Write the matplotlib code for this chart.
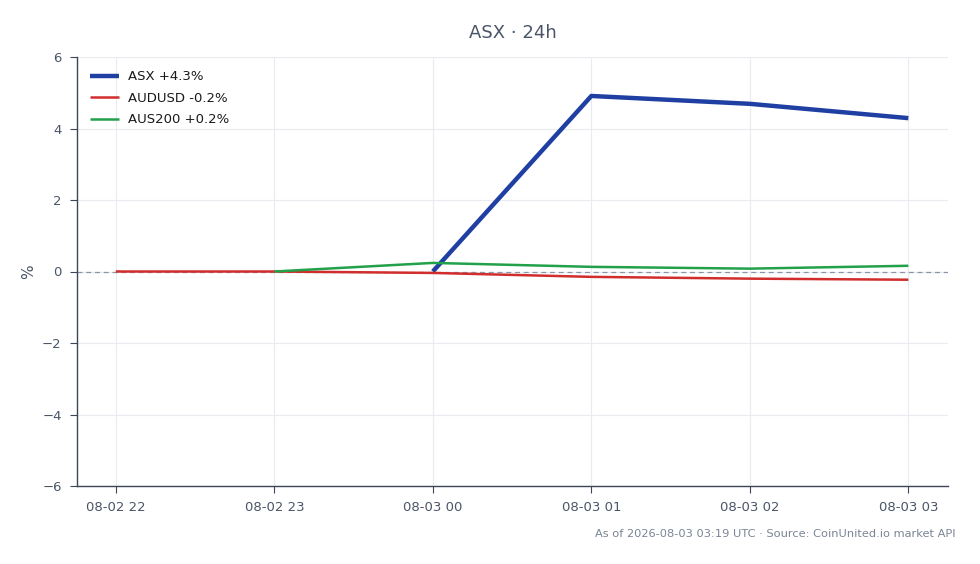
import matplotlib
matplotlib.use("Agg")
import matplotlib.pyplot as plt
import numpy as np

# hourly labels
hours = ["08-02 22", "08-02 23", "08-03 00", "08-03 01", "08-03 02", "08-03 03"]

# % change series (None = no data yet)
asx = [None, None, 0.0, 4.91, 4.69, 4.29]
audusd = [0.0, 0.0, -0.04, -0.15, -0.20, -0.23]
aus200 = [None, 0.0, 0.24, 0.13, 0.08, 0.16]

labels = ["ASX +4.3%", "AUDUSD -0.2%", "AUS200 +0.2%"]
colors = ["#1f3fa3", "#d12d2d", "#22a04a"]
widths = [3.2, 1.8, 1.8]

TXT = "#4a5568"

fig = plt.figure(figsize=(9.8, 5.64), dpi=100)
ax = fig.add_axes([77 / 980, 1 - 486 / 564, (948 - 77) / 980, (486 - 57) / 564])

x = np.arange(len(hours))


def to_arr(vals):
    return np.array([np.nan if v is None else v for v in vals], dtype=float)


for vals, lab, c, w in zip([asx, audusd, aus200], labels, colors, widths):
    ax.plot(x, to_arr(vals), color=c, lw=w, label=lab, solid_capstyle="butt", zorder=3)

ax.axhline(0, color="#8a96a8", lw=0.9, ls=(0, (4, 3)), zorder=2)

ax.set_xlim(-0.245, 5.25)
ax.set_ylim(-6, 6)
ax.set_xticks(x)
ax.set_xticklabels(hours)
ax.set_yticks(np.arange(-6, 7, 2))

ax.grid(True, color="#e8ebef", lw=0.8, zorder=0)
ax.set_axisbelow(True)
for s in ["top", "right"]:
    ax.spines[s].set_visible(False)
for s in ["left", "bottom"]:
    ax.spines[s].set_color("#3b4656")
    ax.spines[s].set_linewidth(1.0)
ax.tick_params(colors="#3b4656", labelcolor=TXT, labelsize=9.5, length=5, pad=6)

ax.set_ylabel("%", color=TXT, fontsize=11)
ax.set_title("ASX · 24h", color=TXT, fontsize=13, pad=14)

leg = ax.legend(loc="upper left", frameon=False, fontsize=9.5, handlelength=2.2,
                borderaxespad=0.6, labelspacing=0.65, handletextpad=0.7)
for t in leg.get_texts():
    t.set_color("#1a1a1a")

fig.text(956 / 980, 1 - 534 / 564, "As of 2026-08-03 03:19 UTC · Source: CoinUnited.io market API",
         ha="right", va="center", fontsize=8.2, color="#7a8594")

fig.savefig("out.png", dpi=100)
